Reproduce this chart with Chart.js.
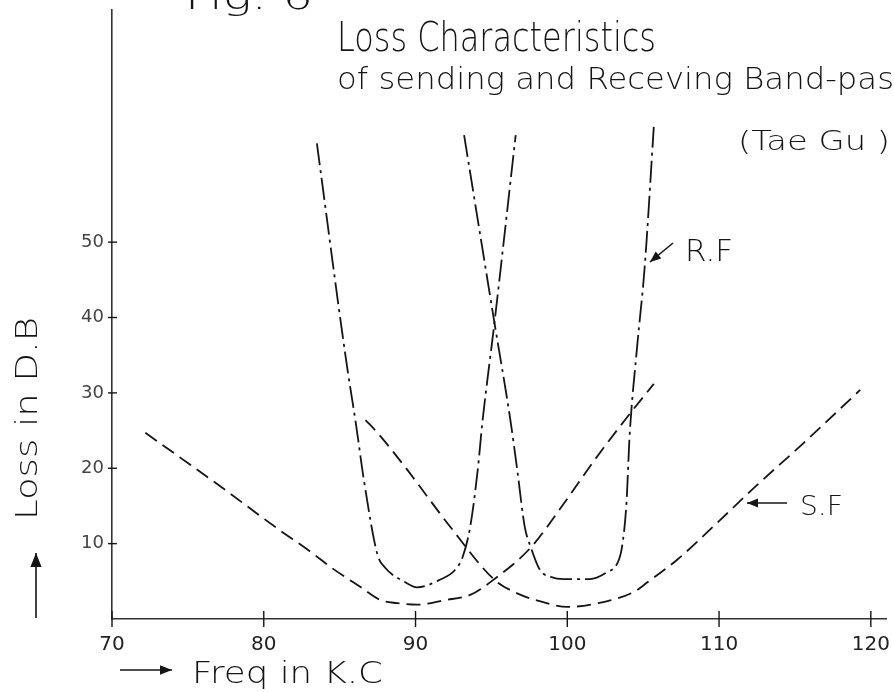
<!DOCTYPE html>
<html><head><meta charset="utf-8">
<script src="https://cdn.jsdelivr.net/npm/chart.js@4/dist/chart.umd.min.js"></script>
<style>html,body{margin:0;padding:0;background:#fff;}canvas{display:block;}</style>
</head><body>
<canvas id="c" width="894" height="692"></canvas>
<script>
// ---- data ----
const xTicks = [70, 80, 90, 100, 110, 120];
const yTicks = [10, 20, 30, 40, 50];

// Sending filter, lower band (dashed)
const sf1X = [72.2, 77.0, 80.9, 83.1, 84.4, 86.4, 87.7, 88.8, 90.1, 91.9, 93.6, 95.2, 97.6, 99.8, 101.8, 103.8, 105.7];
const sf1Y = [24.7, 17.8, 12.0, 8.9, 6.9, 4.2, 2.5, 2.1, 1.9, 2.5, 3.2, 5.3, 9.5, 15.4, 21.1, 26.4, 31.2];
// Sending filter, upper band (dashed)
const sf2X = [86.7, 87.5, 89.3, 92.3, 95.2, 96.7, 98.3, 100.0, 102.0, 104.4, 105.3, 107.2, 109.9, 112.3, 115.6, 119.3];
const sf2Y = [26.4, 24.7, 20.2, 12.2, 5.2, 3.4, 2.3, 1.6, 2.1, 3.6, 4.9, 7.8, 12.8, 17.4, 23.4, 30.4];
// Receiving filter, lower band (dash-dot)
const rf1X = [83.5, 85.4, 86.1, 86.6, 87.5, 88.0, 89.3, 90.1, 91.6, 92.6, 93.1, 93.6, 94.1, 94.4, 95.2, 96.6];
const rf1Y = [63.1, 34.7, 25.5, 18.4, 8.5, 6.8, 4.9, 4.2, 5.2, 6.5, 8.2, 12.2, 19.8, 26.0, 39.3, 64.2];
// Receiving filter, upper band (dash-dot)
const rf2X = [93.2, 95.2, 96.25, 96.7, 97.2, 97.6, 98.2, 98.9, 99.8, 101.5, 102.6, 103.3, 103.6, 103.9, 104.1, 104.6, 105.1, 105.7];
const rf2Y = [64.2, 39.3, 26.4, 19.8, 12.2, 9.5, 6.5, 5.6, 5.3, 5.3, 6.2, 7.4, 9.5, 15.4, 24.1, 36.1, 46.7, 65.3];

const titleLine1 = "Loss Characteristics";
const titleLine2 = "of sending and Receving Band-pass";
const placeLabel = "(Tae Gu )";
const figLabel = "Fig. 6";
const xTitle = "Freq in K.C";
const yTitle = "Loss in D.B";
const rfLabel = "R.F";
const sfLabel = "S.F";

function pts(xs, ys) { return xs.map((x, i) => ({ x: x, y: ys[i] })); }

const FAM = "'DejaVu Sans', 'Liberation Sans', sans-serif";
const INK = "#151515";

function fitText(ctx, text, x, baseline, width, size, measureText) {
  ctx.font = "300 " + size + "px " + FAM;
  const w = ctx.measureText(measureText || text).width;
  const sx = width / w;
  ctx.save();
  ctx.translate(x, baseline);
  ctx.scale(sx, 1);
  ctx.textAlign = "left";
  ctx.textBaseline = "alphabetic";
  ctx.fillText(text, 0, 0);
  ctx.restore();
}

function arrow(ctx, x1, y1, x2, y2, head) {
  ctx.save();
  ctx.strokeStyle = INK; ctx.fillStyle = INK; ctx.lineWidth = 1.6;
  ctx.beginPath(); ctx.moveTo(x1, y1); ctx.lineTo(x2, y2); ctx.stroke();
  const a = Math.atan2(y2 - y1, x2 - x1);
  ctx.beginPath();
  ctx.moveTo(x2, y2);
  ctx.lineTo(x2 - head * Math.cos(a) + head * 0.4 * Math.sin(a), y2 - head * Math.sin(a) - head * 0.4 * Math.cos(a));
  ctx.lineTo(x2 - head * Math.cos(a) - head * 0.4 * Math.sin(a), y2 - head * Math.sin(a) + head * 0.4 * Math.cos(a));
  ctx.closePath(); ctx.fill();
  ctx.restore();
}

const decor = {
  id: 'decor',
  afterDraw(chart) {
    const ctx = chart.ctx;
    const xs = chart.scales.x, ys = chart.scales.y;
    ctx.save();
    // tick marks crossing the axes
    ctx.strokeStyle = INK; ctx.lineWidth = 1.4;
    const x0 = xs.getPixelForValue(70), y0 = ys.getPixelForValue(0);
    yTicks.forEach(v => {
      const py = ys.getPixelForValue(v);
      ctx.beginPath(); ctx.moveTo(x0 - 4, py); ctx.lineTo(x0 + 5, py); ctx.stroke();
    });
    xTicks.forEach(v => {
      const px = xs.getPixelForValue(v);
      ctx.beginPath(); ctx.moveTo(px, y0 - 8); ctx.lineTo(px, y0 + 8); ctx.stroke();
    });
    ctx.fillStyle = INK;
    // headings
    fitText(ctx, figLabel, 185, 9, 128, 36);
    fitText(ctx, titleLine1, 337, 51, 319, 40);
    fitText(ctx, titleLine2, 337, 89, 557, 30, "of sending and Receving Band-pas");
    fitText(ctx, placeLabel, 738, 150, 152, 27);
    // curve labels
    fitText(ctx, rfLabel, 685, 261, 48, 30);
    arrow(ctx, 673, 243, 650, 262, 11);
    fitText(ctx, sfLabel, 800, 515, 43, 27);
    arrow(ctx, 787, 503, 747, 503, 11);
    // x title
    fitText(ctx, xTitle, 192, 683, 191, 31);
    arrow(ctx, 120, 670, 172, 670, 12);
    // y title (rotated)
    ctx.save();
    ctx.translate(37, 520);
    ctx.rotate(-Math.PI / 2);
    fitText(ctx, yTitle, 0, 0, 203, 31);
    ctx.restore();
    arrow(ctx, 36, 618, 36, 553, 14);
    ctx.restore();
  }
};

const common = { borderColor: INK, borderWidth: 1.8, pointRadius: 0, fill: false, cubicInterpolationMode: 'monotone' };

new Chart(document.getElementById('c'), {
  type: 'line',
  data: {
    datasets: [
      Object.assign({ label: 'S.F low', data: pts(sf1X, sf1Y), borderDash: [14, 7] }, common),
      Object.assign({ label: 'S.F high', data: pts(sf2X, sf2Y), borderDash: [14, 7] }, common),
      Object.assign({ label: 'R.F low', data: pts(rf1X, rf1Y), borderDash: [22, 5, 3, 5] }, common),
      Object.assign({ label: 'R.F high', data: pts(rf2X, rf2Y), borderDash: [22, 5, 3, 5] }, common)
    ]
  },
  options: {
    responsive: false,
    animation: false,
    devicePixelRatio: 1,
    layout: { padding: { top: 10, right: 8, left: 0, bottom: 0 } },
    plugins: { legend: { display: false }, tooltip: { enabled: false }, title: { display: false } },
    scales: {
      x: {
        type: 'linear', min: 70, max: 121,
        afterBuildTicks: s => { s.ticks = xTicks.map(v => ({ value: v })); },
        afterFit: s => { s.height = 73; s.paddingLeft = 0; s.paddingRight = 0; },
        grid: { display: false, drawTicks: false },
        border: { display: true, color: '#333', width: 1.6 },
        ticks: { padding: 14, color: '#222', font: { family: FAM, size: 20 }, autoSkip: false, maxRotation: 0 }
      },
      y: {
        type: 'linear', min: 0, max: 80.8,
        afterBuildTicks: s => { s.ticks = yTicks.map(v => ({ value: v })); },
        afterFit: s => { s.width = 112; s.paddingTop = 0; s.paddingBottom = 0; },
        grid: { display: false, drawTicks: false },
        border: { display: true, color: '#333', width: 1.6 },
        ticks: { padding: 8, color: '#444', font: { family: FAM, size: 18 } }
      }
    }
  },
  plugins: [decor]
});
</script>
</body></html>
